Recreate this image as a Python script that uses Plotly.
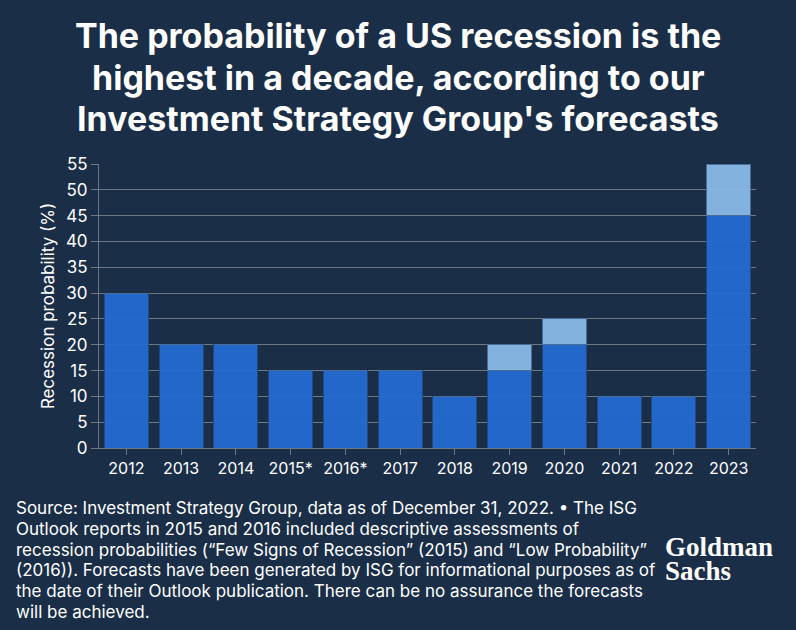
import plotly.graph_objects as go

years = ["2012", "2013", "2014", "2015*", "2016*", "2017", "2018", "2019", "2020", "2021", "2022", "2023"]
base_prob = [30, 20, 20, 15, 15, 15, 10, 15, 20, 10, 10, 45]
range_extra = [0, 0, 0, 0, 0, 0, 0, 5, 5, 0, 0, 10]
y_ticks = [0, 5, 10, 15, 20, 25, 30, 35, 40, 45, 50, 55]

title_lines = ["The probability of a US recession is the",
               "highest in a decade, according to our",
               "Investment Strategy Group's forecasts"]
foot_lines = ["Source: Investment Strategy Group, data as of December 31, 2022. • The ISG",
              "Outlook reports in 2015 and 2016 included descriptive assessments of",
              "recession probabilities (“Few Signs of Recession” (2015) and “Low Probability”",
              "(2016)). Forecasts have been generated by ISG for informational purposes as of",
              "the date of their Outlook publication. There can be no assurance the forecasts",
              "will be achieved."]
logo_lines = ["Goldman", "Sachs"]

BG = "#1b2e47"
DARK = "rgba(35,108,212,0.93)"
LIGHT = "rgba(138,185,232,0.95)"
GRID = "#6f7782"

fig = go.Figure()
fig.add_trace(go.Bar(x=years, y=base_prob, marker=dict(color=DARK, line=dict(color="#1e4a7e", width=1)),
                     width=0.8, showlegend=False))
fig.add_trace(go.Bar(x=years, y=range_extra, marker=dict(color=LIGHT, line=dict(color="#4a6e96", width=1)),
                     width=0.8, showlegend=False))

L, R, T, B = 99, 40, 164, 182
W, H = 796, 630
pw, ph = W - L - R, H - T - B

def px(x):
    return (x - L) / pw

def py(y):
    return (H - B - y) / ph

fig.update_layout(
    width=W, height=H,
    barmode="stack",
    paper_bgcolor=BG, plot_bgcolor=BG,
    margin=dict(l=L, r=R, t=T, b=B),
    font=dict(family="Inter, Roboto, sans-serif", color="white"),
    xaxis=dict(
        showgrid=False, showline=True, linecolor=GRID, linewidth=1,
        ticks="outside", ticklen=6, tickcolor=GRID,
        tickfont=dict(size=16, color="white", family="Inter, sans-serif"),
        layer="above traces",
    ),
    yaxis=dict(
        range=[0, 55], tickvals=y_ticks, showgrid=True, gridcolor=GRID, gridwidth=1,
        showline=True, linecolor=GRID, linewidth=1,
        ticks="outside", ticklen=7, tickcolor=GRID,
        tickfont=dict(size=17, color="white", family="Inter, sans-serif"),
        title=dict(text="Recession probability (%)", font=dict(size=17, color="white", family="Inter, sans-serif"), standoff=6),
        zeroline=False,
        layer="above traces",
    ),
)

for i, t in enumerate(title_lines):
    fig.add_annotation(text=t, xref="paper", yref="paper", x=px(398), y=py(36 + i * 41),
                       xanchor="center", yanchor="middle", showarrow=False,
                       font=dict(family="Inter, sans-serif", size=34, color="white", weight=700))

for i, t in enumerate(foot_lines):
    fig.add_annotation(text=t, xref="paper", yref="paper", x=px(14), y=py(508 + i * 20.8),
                       xanchor="left", yanchor="middle", showarrow=False,
                       font=dict(family="Inter, Roboto, sans-serif", size=17, color="white"))

for i, t in enumerate(logo_lines):
    fig.add_annotation(text="<b>" + t + "</b>", xref="paper", yref="paper", x=px(663), y=py(546 + i * 24),
                       xanchor="left", yanchor="middle", showarrow=False, height=23, valign="middle",
                       font=dict(family="Liberation Serif, serif", size=27, color="white"))

fig.write_html("out.html")
